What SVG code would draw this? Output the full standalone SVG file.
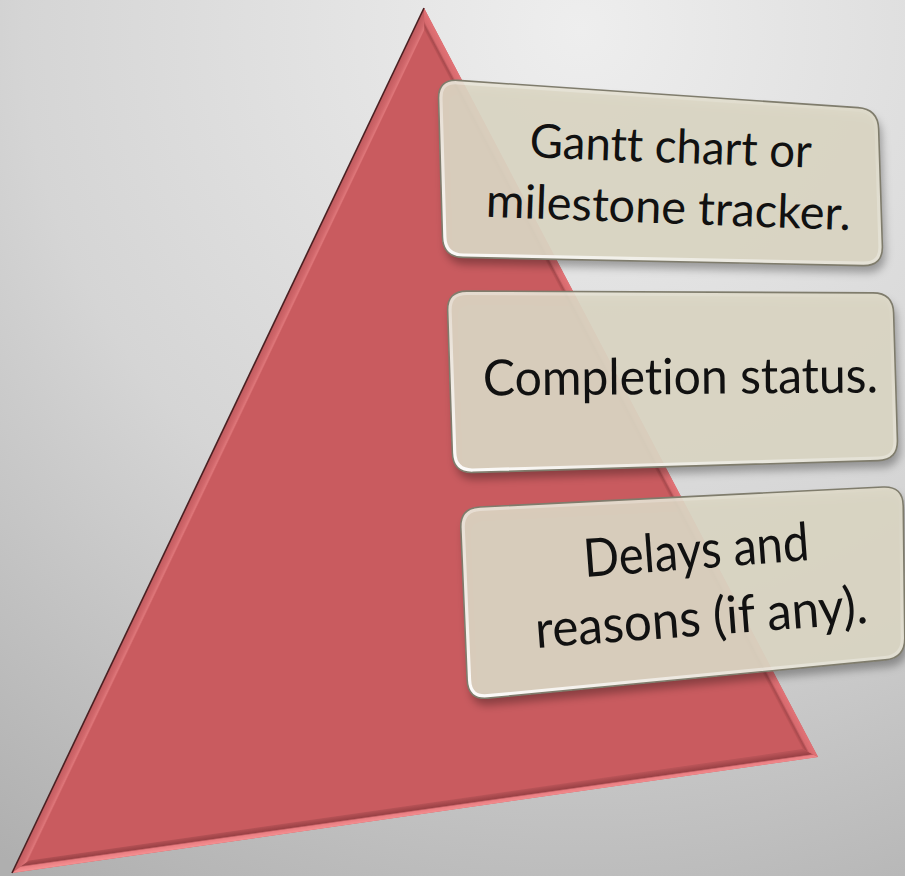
<svg xmlns="http://www.w3.org/2000/svg" xmlns:xlink="http://www.w3.org/1999/xlink" width="905" height="876" viewBox="0 0 905 876">
<style>
.box{fill:#dcd7c4;fill-opacity:0.9;}
.hl{fill:none;stroke:url(#hlg);stroke-width:8;}
.edge{fill:none;stroke:#7f7c6c;stroke-width:1.6;}
.lbl{font-family:Lato,"Open Sans","Liberation Sans",sans-serif;fill:#111;text-anchor:middle;font-variant-ligatures:none;font-feature-settings:"liga" 0,"clig" 0;}
</style>
<defs>
<radialGradient id="bg" gradientUnits="userSpaceOnUse" cx="580" cy="30" r="1010">
<stop offset="0" stop-color="#eeeeee"/>
<stop offset="0.55" stop-color="#d5d5d5"/>
<stop offset="1" stop-color="#afafaf"/>
</radialGradient>
<linearGradient id="gl" gradientUnits="userSpaceOnUse" x1="218" y1="440.5" x2="227" y2="444.8">
<stop offset="0" stop-color="#c05a5e"/>
<stop offset="0.6" stop-color="#d2686c"/>
<stop offset="0.85" stop-color="#de7679"/>
<stop offset="1" stop-color="#c95b5f"/>
</linearGradient>
<linearGradient id="gb" gradientUnits="userSpaceOnUse" x1="415" y1="815" x2="413.6" y2="805.1">
<stop offset="0" stop-color="#f48e90"/>
<stop offset="0.35" stop-color="#ea7e82"/>
<stop offset="0.5" stop-color="#9a4145"/>
<stop offset="1" stop-color="#b85357"/>
</linearGradient>
<linearGradient id="gr" gradientUnits="userSpaceOnUse" x1="621" y1="382.5" x2="612.15" y2="387.16">
<stop offset="0" stop-color="#e27276"/>
<stop offset="0.55" stop-color="#d76a6e"/>
<stop offset="0.75" stop-color="#a84a4e"/>
<stop offset="1" stop-color="#c25659"/>
</linearGradient>
<linearGradient id="hlg" x1="1" y1="0" x2="0" y2="1">
<stop offset="0" stop-color="#ffffff" stop-opacity="0"/>
<stop offset="0.55" stop-color="#ffffff" stop-opacity="0.35"/>
<stop offset="1" stop-color="#ffffff" stop-opacity="0.95"/>
</linearGradient>
<filter id="sh" x="-10%" y="-20%" width="130%" height="150%">
<feDropShadow dx="3" dy="7" stdDeviation="4" flood-color="#000" flood-opacity="0.35"/>
</filter>
<path id="b1" d="M458,80.4 L858.05,107.64 Q878,109 878.64,129 L882.36,246 Q883,266 863,265.59 L463,257.41 Q443,257 442.44,237 L438.56,99 Q438,79 458,80.4 Z"/>
<path id="b2" d="M467,291.09 L873,292.91 Q893,293 893.6,313 L897.4,440 Q898,460 878,460.58 L473,472.42 Q453,473 452.34,453 L447.66,311 Q447,291 467,291.09 Z"/>
<path id="b3" d="M479.98,507.01 L883.02,486.99 Q903,486 903.23,506 L904.77,638 Q905,658 885.09,659.91 L487.91,698.09 Q468,700 467.17,680.02 L460.83,527.98 Q460,508 479.98,507.01 Z"/>
<clipPath id="c1"><use xlink:href="#b1"/></clipPath>
<clipPath id="c2"><use xlink:href="#b2"/></clipPath>
<clipPath id="c3"><use xlink:href="#b3"/></clipPath>
</defs>

<rect id="background" x="0" y="0" width="905" height="876" fill="url(#bg)"/>

<g id="triangle">
<polygon points="424,8 12,873 818,757" fill="#c95b5f"/>
<polygon points="424,8 12,873 29.1,860.4 424.4,30.3" fill="url(#gl)"/>
<polygon points="12,873 818,757 802.6,749.1 29.1,860.4" fill="url(#gb)"/>
<polygon points="818,757 424,8 424.4,30.3 802.6,749.1" fill="url(#gr)"/>
<line x1="424" y1="8" x2="12" y2="873" stroke="#4a2022" stroke-width="1.6"/>
</g>

<g id="connectors"></g>

<g id="node-1">
<use xlink:href="#b1" class="box" filter="url(#sh)"/>
<use xlink:href="#b1" class="hl" clip-path="url(#c1)"/>
<use xlink:href="#b1" class="edge"/>
<g transform="rotate(2.1 669 193)">
<text class="lbl" x="669" y="162.5" font-size="47" textLength="282" lengthAdjust="spacingAndGlyphs">Gantt chart or</text>
<text class="lbl" x="669" y="223.5" font-size="47" textLength="365" lengthAdjust="spacingAndGlyphs">milestone tracker.</text>
</g>
</g>

<g id="node-2">
<use xlink:href="#b2" class="box" filter="url(#sh)"/>
<use xlink:href="#b2" class="hl" clip-path="url(#c2)"/>
<use xlink:href="#b2" class="edge"/>
<text class="lbl" x="680.5" y="394" font-size="50" textLength="395" lengthAdjust="spacingAndGlyphs" transform="rotate(-0.45 680 394)">Completion status.</text>
</g>

<g id="node-3">
<use xlink:href="#b3" class="box" filter="url(#sh)"/>
<use xlink:href="#b3" class="hl" clip-path="url(#c3)"/>
<use xlink:href="#b3" class="edge"/>
<g transform="rotate(-4.3 700 602)">
<text class="lbl" x="700" y="568.5" font-size="53" textLength="226" lengthAdjust="spacingAndGlyphs">Delays and</text>
<text class="lbl" x="700" y="635.5" font-size="52" textLength="333" lengthAdjust="spacingAndGlyphs">reasons (if any).</text>
</g>
</g>
</svg>
